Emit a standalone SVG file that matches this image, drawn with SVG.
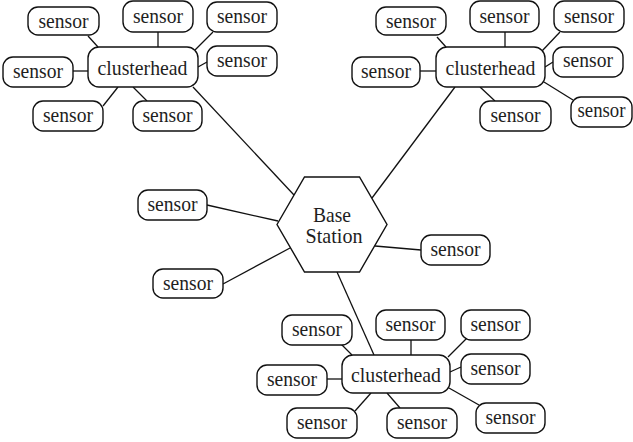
<svg xmlns="http://www.w3.org/2000/svg" width="633" height="442" viewBox="0 0 633 442">
  <style>
    .box { fill: #ffffff; stroke: #111111; stroke-width: 1.4; }
    .lbl { font-family: "Liberation Serif", "Times New Roman", serif; font-size: 22px; fill: #1e1e1e; text-anchor: middle; }
    .link { stroke: #111111; stroke-width: 1.3; fill: none; }
  </style>
  <rect width="633" height="442" fill="#ffffff"/>

  <!-- connectors -->
  <g id="connectors" class="link">
    <!-- upper-left cluster -->
    <line x1="88" y1="36" x2="98" y2="47"/>
    <line x1="158" y1="32" x2="158" y2="47"/>
    <line x1="213" y1="32" x2="195" y2="50"/>
    <line x1="198" y1="67" x2="207" y2="62"/>
    <line x1="73" y1="71" x2="88" y2="71"/>
    <line x1="118" y1="87" x2="103" y2="106"/>
    <line x1="133" y1="87" x2="147" y2="101"/>
    <line x1="193" y1="87" x2="294" y2="195"/>
    <!-- upper-right cluster -->
    <line x1="437" y1="37" x2="446" y2="47"/>
    <line x1="505" y1="32" x2="505" y2="47"/>
    <line x1="560" y1="32" x2="542" y2="51"/>
    <line x1="545" y1="67" x2="553" y2="62"/>
    <line x1="420" y1="71" x2="436" y2="71"/>
    <line x1="455" y1="87" x2="372" y2="198"/>
    <line x1="480" y1="87" x2="495" y2="101"/>
    <line x1="544" y1="82" x2="573" y2="100"/>
    <!-- base station -->
    <line x1="207" y1="205" x2="278" y2="221"/>
    <line x1="223" y1="284" x2="290" y2="248"/>
    <line x1="375" y1="246" x2="421" y2="250"/>
    <line x1="337" y1="272" x2="374" y2="355"/>
    <!-- lower cluster -->
    <line x1="340" y1="343" x2="352" y2="355"/>
    <line x1="411" y1="340" x2="411" y2="355"/>
    <line x1="467" y1="338" x2="448" y2="357"/>
    <line x1="450" y1="372" x2="461" y2="367"/>
    <line x1="327" y1="379" x2="342" y2="379"/>
    <line x1="371" y1="393" x2="355" y2="411"/>
    <line x1="387" y1="393" x2="400" y2="408"/>
    <line x1="449" y1="388" x2="479" y2="405"/>
  </g>

  <!-- base station -->
  <g id="base-station">
    <polygon class="box" points="277,224.5 304.5,177 359.5,177 387,224.5 359.5,272 304.5,272"/>
    <text class="lbl" x="332" y="222" textLength="38" lengthAdjust="spacingAndGlyphs">Base</text>
    <text class="lbl" x="334" y="243" textLength="57" lengthAdjust="spacingAndGlyphs">Station</text>
  </g>

  <!-- clusterheads -->
  <g id="clusterhead-1">
    <rect class="box" x="88" y="47" width="110" height="40" rx="11"/>
    <text class="lbl" x="142.5" y="75" textLength="90" lengthAdjust="spacingAndGlyphs">clusterhead</text>
  </g>
  <g id="clusterhead-2">
    <rect class="box" x="436" y="47" width="109" height="40" rx="11"/>
    <text class="lbl" x="490.5" y="75" textLength="90" lengthAdjust="spacingAndGlyphs">clusterhead</text>
  </g>
  <g id="clusterhead-3">
    <rect class="box" x="342" y="355" width="108" height="38" rx="11"/>
    <text class="lbl" x="396" y="382" textLength="90" lengthAdjust="spacingAndGlyphs">clusterhead</text>
  </g>

  <!-- sensors, upper-left cluster -->
  <g id="sensor-1"><rect class="box" x="28" y="7" width="71" height="28" rx="10"/><text class="lbl" x="63.5" y="27.5" textLength="50" lengthAdjust="spacingAndGlyphs">sensor</text></g>
  <g id="sensor-2"><rect class="box" x="123" y="1" width="70" height="31" rx="10"/><text class="lbl" x="158" y="23" textLength="50" lengthAdjust="spacingAndGlyphs">sensor</text></g>
  <g id="sensor-3"><rect class="box" x="207" y="2" width="70" height="30" rx="10"/><text class="lbl" x="242" y="23" textLength="50" lengthAdjust="spacingAndGlyphs">sensor</text></g>
  <g id="sensor-4"><rect class="box" x="207" y="46" width="70" height="30" rx="10"/><text class="lbl" x="242" y="67" textLength="50" lengthAdjust="spacingAndGlyphs">sensor</text></g>
  <g id="sensor-5"><rect class="box" x="3" y="57" width="70" height="30" rx="10"/><text class="lbl" x="38" y="78" textLength="50" lengthAdjust="spacingAndGlyphs">sensor</text></g>
  <g id="sensor-6"><rect class="box" x="33" y="101" width="70" height="30" rx="10"/><text class="lbl" x="68" y="122" textLength="50" lengthAdjust="spacingAndGlyphs">sensor</text></g>
  <g id="sensor-7"><rect class="box" x="133" y="101" width="69" height="30" rx="10"/><text class="lbl" x="167.5" y="122" textLength="50" lengthAdjust="spacingAndGlyphs">sensor</text></g>

  <!-- sensors, upper-right cluster -->
  <g id="sensor-8"><rect class="box" x="376" y="7" width="70" height="28" rx="10"/><text class="lbl" x="411" y="27.5" textLength="50" lengthAdjust="spacingAndGlyphs">sensor</text></g>
  <g id="sensor-9"><rect class="box" x="470" y="1" width="69" height="31" rx="10"/><text class="lbl" x="504.5" y="23" textLength="50" lengthAdjust="spacingAndGlyphs">sensor</text></g>
  <g id="sensor-10"><rect class="box" x="554" y="1" width="70" height="31" rx="10"/><text class="lbl" x="589" y="23" textLength="50" lengthAdjust="spacingAndGlyphs">sensor</text></g>
  <g id="sensor-11"><rect class="box" x="553" y="47" width="70" height="30" rx="10"/><text class="lbl" x="588" y="67" textLength="50" lengthAdjust="spacingAndGlyphs">sensor</text></g>
  <g id="sensor-12"><rect class="box" x="352" y="57" width="68" height="30" rx="10"/><text class="lbl" x="386" y="78" textLength="50" lengthAdjust="spacingAndGlyphs">sensor</text></g>
  <g id="sensor-13"><rect class="box" x="480" y="101" width="71" height="30" rx="10"/><text class="lbl" x="515.5" y="122" textLength="50" lengthAdjust="spacingAndGlyphs">sensor</text></g>
  <g id="sensor-14"><rect class="box" x="571" y="97" width="61" height="30" rx="10"/><text class="lbl" x="601.5" y="117" textLength="48" lengthAdjust="spacingAndGlyphs">sensor</text></g>

  <!-- sensors attached to the base station -->
  <g id="sensor-15"><rect class="box" x="138" y="190" width="69" height="30" rx="10"/><text class="lbl" x="172.5" y="211" textLength="50" lengthAdjust="spacingAndGlyphs">sensor</text></g>
  <g id="sensor-16"><rect class="box" x="153" y="269" width="70" height="29" rx="10"/><text class="lbl" x="188" y="290" textLength="50" lengthAdjust="spacingAndGlyphs">sensor</text></g>
  <g id="sensor-17"><rect class="box" x="421" y="235" width="69" height="30" rx="10"/><text class="lbl" x="455.5" y="256" textLength="50" lengthAdjust="spacingAndGlyphs">sensor</text></g>

  <!-- sensors, lower cluster -->
  <g id="sensor-18"><rect class="box" x="282" y="315" width="70" height="30" rx="10"/><text class="lbl" x="317" y="336" textLength="50" lengthAdjust="spacingAndGlyphs">sensor</text></g>
  <g id="sensor-19"><rect class="box" x="376" y="310" width="69" height="30" rx="10"/><text class="lbl" x="410.5" y="331" textLength="50" lengthAdjust="spacingAndGlyphs">sensor</text></g>
  <g id="sensor-20"><rect class="box" x="461" y="310" width="69" height="30" rx="10"/><text class="lbl" x="495.5" y="331" textLength="50" lengthAdjust="spacingAndGlyphs">sensor</text></g>
  <g id="sensor-21"><rect class="box" x="461" y="354" width="69" height="30" rx="10"/><text class="lbl" x="495.5" y="375" textLength="50" lengthAdjust="spacingAndGlyphs">sensor</text></g>
  <g id="sensor-22"><rect class="box" x="257" y="365" width="70" height="30" rx="10"/><text class="lbl" x="292" y="386" textLength="50" lengthAdjust="spacingAndGlyphs">sensor</text></g>
  <g id="sensor-23"><rect class="box" x="287" y="408" width="70" height="30" rx="10"/><text class="lbl" x="322" y="429" textLength="50" lengthAdjust="spacingAndGlyphs">sensor</text></g>
  <g id="sensor-24"><rect class="box" x="387" y="408" width="70" height="30" rx="10"/><text class="lbl" x="422" y="429" textLength="50" lengthAdjust="spacingAndGlyphs">sensor</text></g>
  <g id="sensor-25"><rect class="box" x="476" y="403" width="69" height="30" rx="10"/><text class="lbl" x="510.5" y="424" textLength="50" lengthAdjust="spacingAndGlyphs">sensor</text></g>
</svg>
